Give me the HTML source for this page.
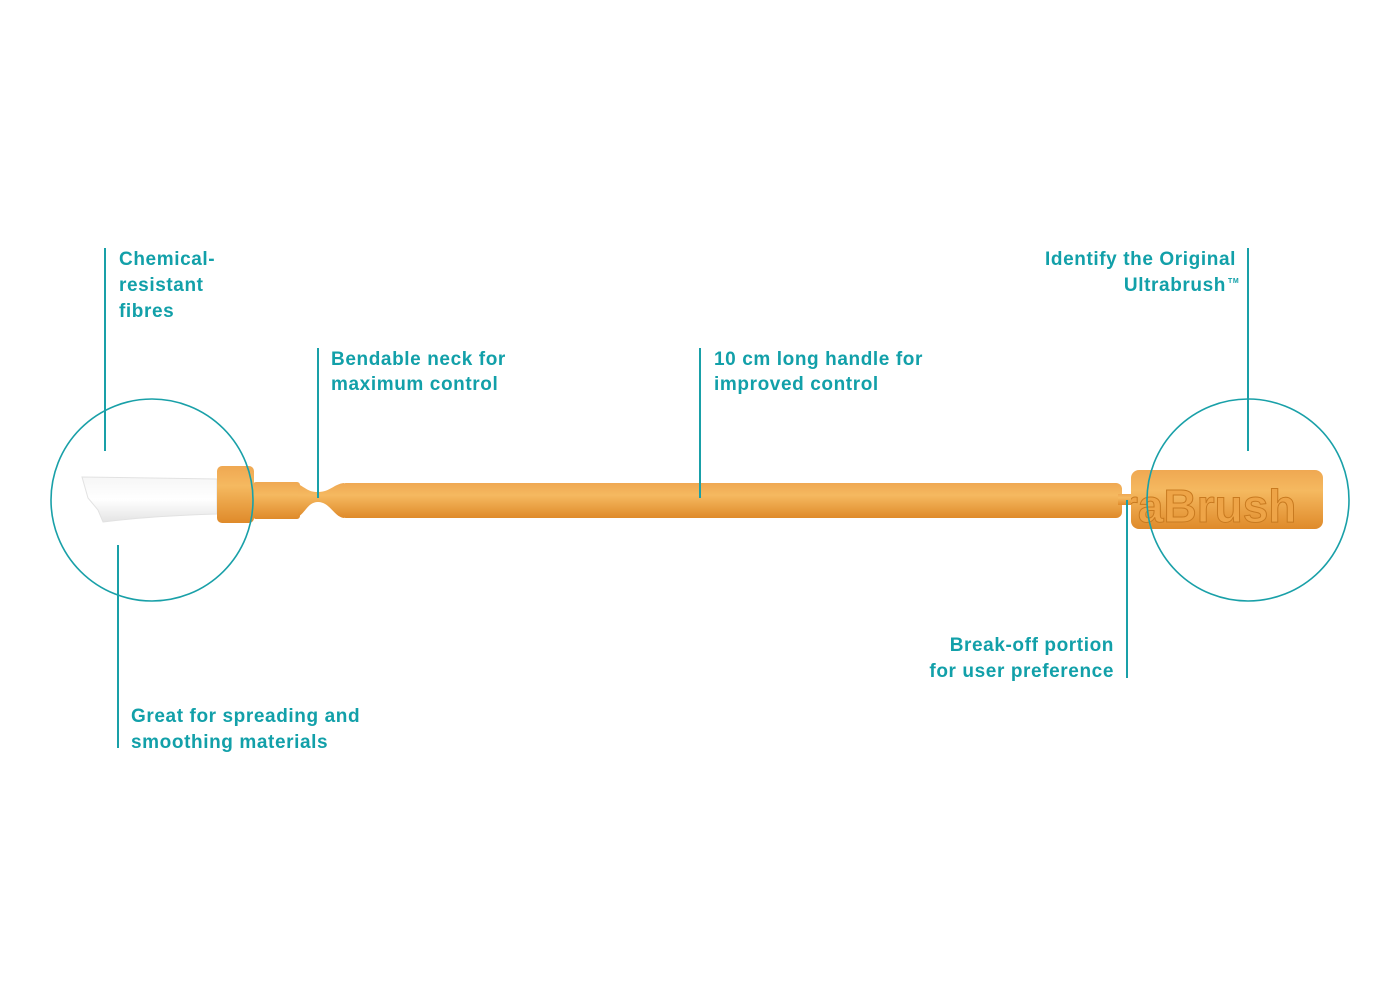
<!DOCTYPE html>
<html><head><style>
body{margin:0;background:#fff;}
svg{display:block}
text{font-family:"Liberation Sans",Arial,sans-serif;font-weight:bold;font-size:19px;letter-spacing:0.6px;fill:#12a0a9}
</style></head><body>
<svg width="1400" height="1000" viewBox="0 0 1400 1000" xmlns="http://www.w3.org/2000/svg">
<defs>
<linearGradient id="g" x1="0" y1="0" x2="0" y2="1">
<stop offset="0" stop-color="#efa852"/><stop offset="0.35" stop-color="#f5b960"/><stop offset="1" stop-color="#df8a2a"/>
</linearGradient>
<linearGradient id="w" x1="0" y1="0" x2="0" y2="1">
<stop offset="0" stop-color="#f6f6f6"/><stop offset="0.5" stop-color="#ffffff"/><stop offset="1" stop-color="#e4e4e4"/>
</linearGradient>
<clipPath id="cap"><rect x="1131" y="470" width="192" height="59" rx="8"/></clipPath>
</defs>
<path d="M82 477 L217 479 L217 514 Q150 516 103 522 L98 510 L88 498 Z" fill="url(#w)" stroke="#e2e2e2" stroke-width="1"/>
<rect x="217" y="466" width="37" height="57" rx="5" fill="url(#g)"/>
<rect x="253" y="482" width="47" height="37" rx="3" fill="url(#g)"/>
<path d="M298 484 C306 488 308 492 318 492 C330 492 334 484 344 483 L344 518 C334 517 330 502 318 502 C308 502 306 512 298 517 Z" fill="url(#g)"/>
<rect x="340" y="483" width="782" height="35" rx="6" fill="url(#g)"/>
<rect x="1118" y="494" width="16" height="11" fill="url(#g)"/>
<rect x="1131" y="470" width="192" height="59" rx="8" fill="url(#g)"/>
<g clip-path="url(#cap)">
<text x="1120" y="522" style="font-size:46px;letter-spacing:0;font-weight:bold;fill:#eea447;stroke:#c87a20;stroke-width:1">raBrush</text>
</g>
<circle cx="152" cy="500" r="101" fill="none" stroke="#19a0a8" stroke-width="1.6"/>
<circle cx="1248" cy="500" r="101" fill="none" stroke="#19a0a8" stroke-width="1.6"/>
<g stroke="#19a0a8" stroke-width="2">
<line x1="105" y1="248" x2="105" y2="451"/>
<line x1="118" y1="545" x2="118" y2="748"/>
<line x1="318" y1="348" x2="318" y2="498"/>
<line x1="700" y1="348" x2="700" y2="498"/>
<line x1="1248" y1="248" x2="1248" y2="451"/>
<line x1="1127" y1="500" x2="1127" y2="678"/>
</g>
<text x="119" y="265">Chemical-</text>
<text x="119" y="291">resistant</text>
<text x="119" y="317">fibres</text>
<text x="331" y="365">Bendable neck for</text>
<text x="331" y="390">maximum control</text>
<text x="714" y="365">10 cm long handle for</text>
<text x="714" y="390">improved control</text>
<text x="1236" y="265" text-anchor="end">Identify the Original</text>
<text x="1226" y="291" text-anchor="end">Ultrabrush</text>
<text x="1228" y="283" style="font-size:7px">TM</text>
<text x="1114" y="651" text-anchor="end">Break-off portion</text>
<text x="1114" y="677" text-anchor="end">for user preference</text>
<text x="131" y="722">Great for spreading and</text>
<text x="131" y="748">smoothing materials</text>
</svg>
</body></html>
